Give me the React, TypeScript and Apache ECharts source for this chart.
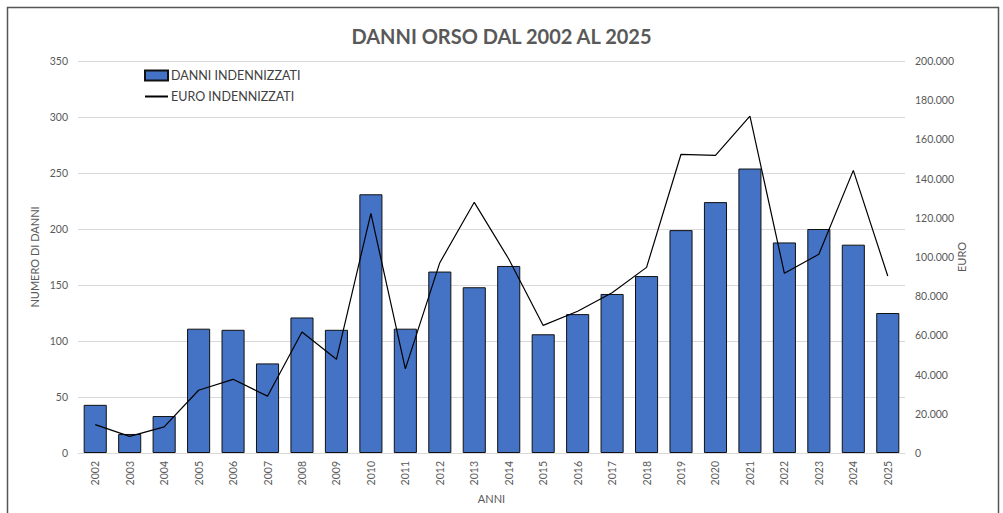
import React, { useEffect, useRef } from "react";
import * as echarts from "echarts";

const years = ["2002","2003","2004","2005","2006","2007","2008","2009","2010","2011","2012","2013","2014","2015","2016","2017","2018","2019","2020","2021","2022","2023","2024","2025"];
const danni = [43, 17, 33, 111, 110, 80, 121, 110, 231, 111, 162, 148, 167, 106, 124, 142, 158, 199, 224, 254, 188, 200, 186, 125];
const euro = [14500, 8500, 13300, 32000, 37600, 29000, 61700, 47800, 122300, 42900, 97100, 127900, 99000, 65100, 72300, 81800, 94700, 152400, 151900, 171900, 91700, 101400, 144200, 90300];

const FONT = "Lato, 'Liberation Sans', sans-serif";

export default function App() {
  const ref = useRef<HTMLDivElement>(null);
  useEffect(() => {
    if (!ref.current) return;
    const chart = echarts.init(ref.current, undefined, { renderer: "svg" });
    chart.setOption({
      animation: false,
      backgroundColor: "#ffffff",
      textStyle: { fontFamily: FONT },
      title: {
        text: "DANNI ORSO DAL 2002 AL 2025",
        left: "center",
        top: 21,
        textStyle: { fontFamily: FONT, fontSize: 20, fontWeight: "bold", color: "#595959" },
      },
      graphic: [
        {
          type: "rect",
          shape: { x: 7.5, y: 7.5, width: 991, height: 530 },
          style: { fill: "none", stroke: "#555", lineWidth: 1.5 },
          silent: true,
          z: -1,
        },
      ],
      legend: {
        orient: "vertical",
        left: 139,
        top: 64,
        itemWidth: 23,
        itemHeight: 10,
        itemGap: 8,
        textStyle: { fontFamily: FONT, fontSize: 12.5, color: "#404040", padding: [0, 0, 0, -2] },
        data: [
          { name: "DANNI INDENNIZZATI", icon: "rect" },
          { name: "EURO INDENNIZZATI", itemStyle: { opacity: 0 } },
        ],
      },
      grid: { left: 78, right: 98, top: 61, bottom: 60, containLabel: false },
      xAxis: {
        type: "category",
        data: years,
        name: "ANNI",
        nameLocation: "middle",
        nameGap: 40,
        nameMoveOverlap: false,
        nameTextStyle: { fontFamily: FONT, fontSize: 11, color: "#595959" },
        axisLine: { lineStyle: { color: "#d9d9d9" } },
        axisTick: { show: false },
        axisLabel: { rotate: 90, fontSize: 10.5, color: "#595959", margin: 8, fontFamily: FONT },
      },
      yAxis: [
        {
          type: "value",
          min: 0,
          max: 350,
          interval: 50,
          name: "NUMERO DI DANNI",
          nameLocation: "middle",
          nameGap: 38,
          nameMoveOverlap: false,
          nameRotate: 90,
          nameTextStyle: { fontFamily: FONT, fontSize: 11, color: "#595959" },
          axisLine: { show: false },
          axisTick: { show: false },
          axisLabel: { fontSize: 10.5, color: "#595959", margin: 10, fontFamily: FONT },
          splitLine: { lineStyle: { color: "#d9d9d9", width: 1 } },
        },
        {
          type: "value",
          min: 0,
          max: 200000,
          interval: 20000,
          position: "right",
          name: "EURO",
          nameLocation: "middle",
          nameGap: 51,
          nameMoveOverlap: false,
          nameRotate: 90,
          nameTextStyle: { fontFamily: FONT, fontSize: 11, color: "#595959" },
          axisLine: { show: false },
          axisTick: { show: false },
          splitLine: { show: false },
          axisLabel: {
            fontSize: 10.5,
            color: "#595959",
            margin: 10,
            fontFamily: FONT,
            formatter: (v: number) => (v === 0 ? "0" : String(v).replace(/\B(?=(\d{3})+(?!\d))/g, ".")),
          },
        },
      ],
      series: [
        {
          name: "DANNI INDENNIZZATI",
          type: "bar",
          data: danni,
          yAxisIndex: 0,
          barCategoryGap: "33%",
          itemStyle: { color: "#4472C4", borderColor: "#111", borderWidth: 1 },
        },
        {
          name: "EURO INDENNIZZATI",
          type: "line",
          data: euro,
          yAxisIndex: 1,
          symbol: "none",
          showSymbol: false,
          lineStyle: { color: "#000", width: 1.2 },
          itemStyle: { color: "#000" },
          z: 3,
        },
      ],
    });
    return () => chart.dispose();
  }, []);
  return (
    <div
      ref={ref}
      style={{ position: "fixed", left: 0, top: 0, width: 1003, height: 513 }}
    />
  );
}
